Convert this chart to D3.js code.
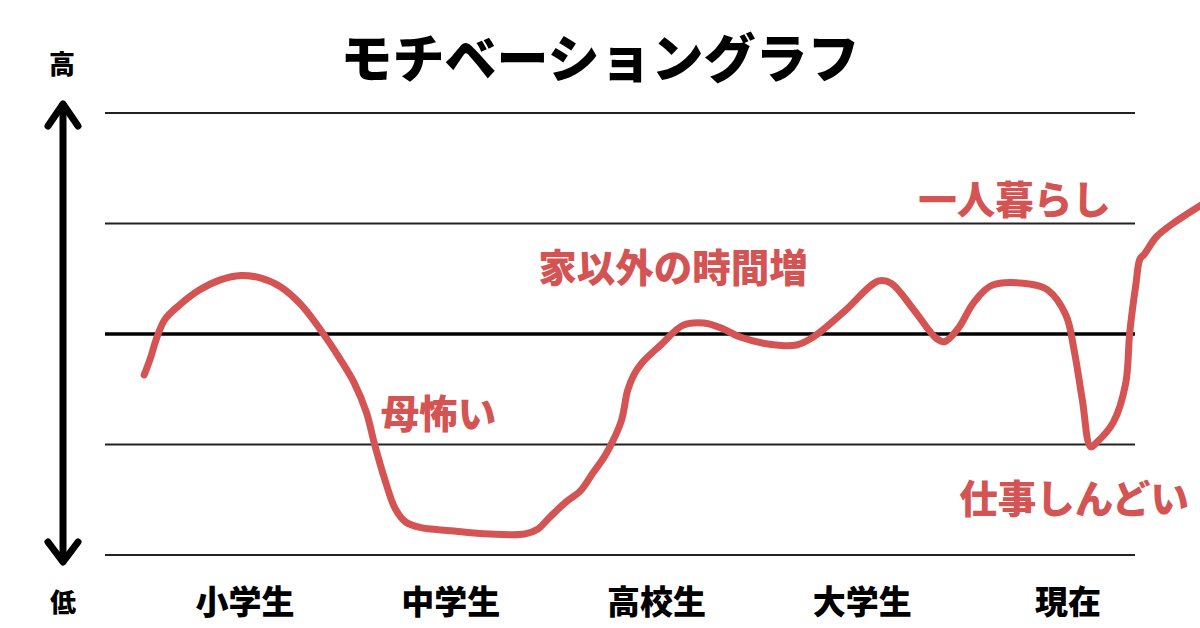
<!DOCTYPE html>
<html>
<head>
<meta charset="utf-8">
<script src="https://cdn.jsdelivr.net/npm/d3@7"></script>
<style>
  body { margin: 0; background: #fff; }
  svg { display: block; font-family: "Noto Sans CJK JP", sans-serif; }
</style>
</head>
<body>
<svg id="chart" width="1200" height="628"></svg>
<script>
// life stages on the x axis (index 0..4)
const stages = ['小学生', '中学生', '高校生', '大学生', '現在'];
// motivation levels where the guide lines sit
const levels = [2, 1, 0, -1, -2];
// curve: stage position / motivation
const curveT = [-0.49, -0.46, -0.43, -0.39, -0.32, -0.22, -0.12, -0.02, 0.07, 0.17, 0.27, 0.37, 0.46,
  0.53, 0.59, 0.63, 0.68, 0.73, 0.78, 0.85, 1.0, 1.19, 1.36, 1.42, 1.48, 1.56, 1.63, 1.69, 1.75,
  1.79, 1.83, 1.86, 1.89, 1.93, 2.02, 2.13, 2.23, 2.32, 2.41, 2.54, 2.68, 2.76, 2.91, 3.08, 3.14,
  3.25, 3.36, 3.40, 3.47, 3.54, 3.63, 3.82, 3.90, 3.99, 4.03, 4.07, 4.11, 4.14, 4.22, 4.28,
  4.30, 4.33, 4.35, 4.37, 4.43, 4.51, 4.65];
const curveV = [-0.37, -0.22, -0.04, 0.13, 0.26, 0.40, 0.49, 0.53, 0.51, 0.43, 0.27, 0.03, -0.22,
  -0.44, -0.71, -1.0, -1.32, -1.58, -1.70, -1.75, -1.78, -1.81, -1.81, -1.77, -1.66, -1.52, -1.42, -1.26, -1.10,
  -0.96, -0.78, -0.51, -0.37, -0.26, -0.10, 0.08, 0.10, 0.05, -0.03, -0.09, -0.10, -0.03, 0.20, 0.48, 0.46,
  0.22, -0.04, -0.07, 0.06, 0.28, 0.44, 0.45, 0.40, 0.17, -0.15, -0.60, -1.02, -0.98, -0.80, -0.45,
  0.01, 0.45, 0.68, 0.72, 0.88, 1.0, 1.17];
// annotations on the curve
const noteText = ['母怖い', '家以外の時間増', '一人暮らし', '仕事しんどい'];
const noteT = [0.94, 2.08, 3.74, 4.03];
const noteV = [-0.70, 0.62, 1.24, -1.47];

const red = '#d45454';
const svg = d3.select('#chart');

const x = d3.scaleLinear().domain([0, 4]).range([245, 1068]);
const y = d3.scaleLinear().domain([-2, 2]).range([555, 113]);

// Title
svg.append('text')
  .attr('x', 600).attr('y', 55)
  .attr('text-anchor', 'middle').attr('dominant-baseline', 'central')
  .style('font-size', '52px').style('font-weight', 900)
  .attr('fill', '#000')
  .text('モチベーショングラフ');

// Guide lines
svg.append('g')
  .selectAll('line')
  .data(levels)
  .join('line')
  .attr('x1', 105).attr('x2', 1135)
  .attr('y1', d => y(d)).attr('y2', d => y(d))
  .attr('stroke', d => d === 0 ? '#000' : '#222')
  .attr('stroke-width', d => d === 0 ? 3.5 : 1.8);

// Stage labels
svg.append('g')
  .selectAll('text')
  .data(stages)
  .join('text')
  .attr('x', (d, i) => x(i)).attr('y', 600)
  .attr('text-anchor', 'middle').attr('dominant-baseline', 'central')
  .style('font-size', '33px').style('font-weight', 900)
  .attr('fill', '#000')
  .text(d => d);

// Vertical arrow
const ax = 63;
const arrow = svg.append('g')
  .attr('stroke', '#000').attr('stroke-width', 7)
  .attr('stroke-linecap', 'round').attr('stroke-linejoin', 'round')
  .attr('fill', 'none');
arrow.append('line').attr('x1', ax).attr('x2', ax).attr('y1', y(2) - 8).attr('y2', y(-2) + 6);
arrow.append('path').attr('d', `M${ax - 15},${y(2) + 13} L${ax},${y(2) - 9} L${ax + 15},${y(2) + 13}`);
arrow.append('path').attr('d', `M${ax - 15},${y(-2) - 13} L${ax},${y(-2) + 7} L${ax + 15},${y(-2) - 13}`);

svg.append('text')
  .attr('x', 62).attr('y', 62)
  .attr('text-anchor', 'middle').attr('dominant-baseline', 'central')
  .style('font-size', '26px').style('font-weight', 900)
  .text('高');
svg.append('text')
  .attr('x', 63).attr('y', 600)
  .attr('text-anchor', 'middle').attr('dominant-baseline', 'central')
  .style('font-size', '26px').style('font-weight', 900)
  .text('低');

// Motivation curve
const pts = curveT.map((t, i) => [t, curveV[i]]);
const line = d3.line()
  .x(d => x(d[0]))
  .y(d => y(d[1]))
  .curve(d3.curveCatmullRom.alpha(0.5));

svg.append('path')
  .datum(pts)
  .attr('d', line)
  .attr('fill', 'none')
  .attr('stroke', red)
  .attr('stroke-width', 7)
  .attr('stroke-linecap', 'round')
  .attr('stroke-linejoin', 'round');

// Notes
svg.append('g')
  .selectAll('text')
  .data(noteText)
  .join('text')
  .attr('x', (d, i) => x(noteT[i]))
  .attr('y', (d, i) => y(noteV[i]))
  .attr('text-anchor', 'middle').attr('dominant-baseline', 'central')
  .style('font-size', '38.5px').style('font-weight', 900)
  .attr('fill', red)
  .text(d => d);
</script>
</body>
</html>
